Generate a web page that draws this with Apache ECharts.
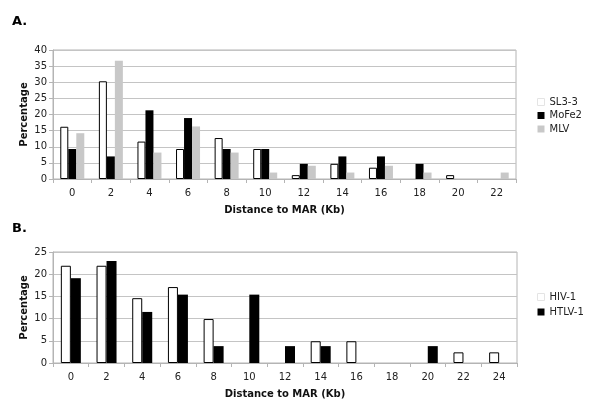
<!DOCTYPE html>
<html>
<head>
<meta charset="utf-8">
<script src="https://cdn.jsdelivr.net/npm/echarts@6/dist/echarts.min.js"></script>
<style>
  html, body { margin: 0; padding: 0; background: #fff; }
  #chart { width: 600px; height: 409px; }
</style>
</head>
<body>
<div id="chart"></div>
<script>
// panel A
var catsA = ['0', '2', '4', '6', '8', '10', '12', '14', '16', '18', '20', '22'];
var sl33 = [16.2, 30.3, 11.6, 9.3, 12.7, 9.3, 1.2, 4.7, 3.5, 0, 1.2, 0];
var mofe2 = [9.3, 7.0, 21.3, 18.9, 9.3, 9.3, 4.7, 7.0, 7.0, 4.7, 0, 0];
var mlv = [14.2, 36.7, 8.2, 16.3, 8.2, 2.0, 4.1, 2.0, 4.1, 2.0, 0, 2.0];

// panel B
var catsB = ['0', '2', '4', '6', '8', '10', '12', '14', '16', '18', '20', '22', '24'];
var hiv1 = [21.9, 21.9, 14.6, 17.1, 9.9, 0, 0, 4.9, 4.9, 0, 0, 2.4, 2.4];
var htlv1 = [19.1, 23.0, 11.5, 15.4, 3.8, 15.4, 3.8, 3.8, 0, 0, 3.8, 0, 0];

var font = 'DejaVu Sans, Verdana, sans-serif';
var grey = '#b4b4b4';

// zero bars are not drawn in the original
var nz = function (arr) { return arr.map(function (v) { return v === 0 ? '-' : v; }); };

var xAxisBase = function (idx, cats) {
    return {
        type: 'category',
        gridIndex: idx,
        data: cats,
        name: 'Distance to MAR (Kb)',
        nameLocation: 'middle',
        nameGap: 26,
        nameMoveOverlap: false,
        nameTextStyle: { fontFamily: font, fontSize: 10, fontWeight: 'bold', color: '#111' },
        axisLine: { lineStyle: { color: grey } },
        axisTick: { show: true, length: 4, lineStyle: { color: grey } },
        axisLabel: { fontFamily: font, fontSize: 10, color: '#222', margin: 9 }
    };
};
var yAxisBase = function (idx, max, interval) {
    return {
        type: 'value',
        gridIndex: idx,
        min: 0,
        max: max,
        interval: interval,
        name: 'Percentage',
        nameLocation: 'middle',
        nameRotate: 90,
        nameGap: 24,
        nameMoveOverlap: false,
        nameTextStyle: { fontFamily: font, fontSize: 10, fontWeight: 'bold', color: '#111' },
        axisLine: { show: true, lineStyle: { color: grey } },
        axisTick: { show: true, length: 4, lineStyle: { color: grey } },
        axisLabel: { fontFamily: font, fontSize: 10, color: '#222', margin: 6 },
        splitLine: { lineStyle: { color: '#c4c4c4' } }
    };
};

var whiteStyle = { color: '#fff', borderColor: '#000', borderWidth: 1 };
var legendText = { fontFamily: font, fontSize: 10, color: '#222' };

var chart = echarts.init(document.getElementById('chart'));
chart.setOption({
    animation: false,
    title: [
        { text: 'A.', left: 12, top: 15, padding: 0, textStyle: { fontFamily: font, fontSize: 13, fontWeight: 'bold', color: '#000' } },
        { text: 'B.', left: 12, top: 222, padding: 0, textStyle: { fontFamily: font, fontSize: 13, fontWeight: 'bold', color: '#000' } }
    ],
    grid: [
        { left: 53, top: 50, width: 463, height: 129, show: true, borderColor: grey, borderWidth: 1 },
        { left: 53, top: 252, width: 464, height: 111, show: true, borderColor: grey, borderWidth: 1 }
    ],
    legend: [
        {
            left: 537, top: 97, padding: 0, orient: 'vertical', icon: 'rect', itemWidth: 7, itemHeight: 7, itemGap: 3.5,
            textStyle: legendText,
            data: [
                { name: 'SL3-3', itemStyle: { color: '#fff', borderColor: '#e4e4e4', borderWidth: 1 } },
                { name: 'MoFe2' },
                { name: 'MLV' }
            ]
        },
        {
            left: 537, top: 292, padding: 0, orient: 'vertical', icon: 'rect', itemWidth: 7, itemHeight: 7, itemGap: 5,
            textStyle: legendText,
            data: [
                { name: 'HIV-1', itemStyle: { color: '#fff', borderColor: '#e4e4e4', borderWidth: 1 } },
                { name: 'HTLV-1' }
            ]
        }
    ],
    xAxis: [xAxisBase(0, catsA), xAxisBase(1, catsB)],
    yAxis: [yAxisBase(0, 40, 5), yAxisBase(1, 25, 5)],
    series: [
        { name: 'SL3-3', type: 'bar', xAxisIndex: 0, yAxisIndex: 0, data: nz(sl33), barWidth: 8, barGap: '0%', itemStyle: whiteStyle },
        { name: 'MoFe2', type: 'bar', xAxisIndex: 0, yAxisIndex: 0, data: nz(mofe2), barWidth: 8, barGap: '0%', itemStyle: { color: '#000' } },
        { name: 'MLV', type: 'bar', xAxisIndex: 0, yAxisIndex: 0, data: nz(mlv), barWidth: 8, barGap: '0%', itemStyle: { color: '#c8c8c8' } },
        { name: 'HIV-1', type: 'bar', xAxisIndex: 1, yAxisIndex: 1, data: nz(hiv1), barWidth: 10, barGap: '0%', itemStyle: whiteStyle },
        { name: 'HTLV-1', type: 'bar', xAxisIndex: 1, yAxisIndex: 1, data: nz(htlv1), barWidth: 10, barGap: '0%', itemStyle: { color: '#000' } }
    ]
});
</script>
</body>
</html>
